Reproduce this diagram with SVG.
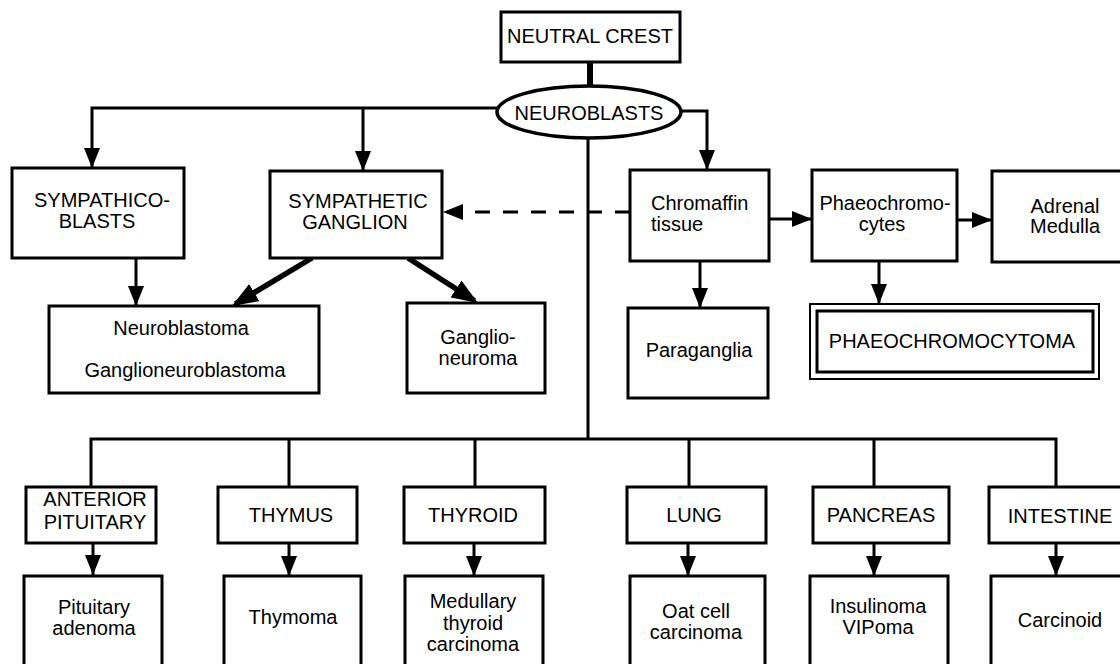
<svg xmlns="http://www.w3.org/2000/svg" width="1120" height="664" viewBox="0 0 1120 664">
<style>
.box{fill:#fff;stroke:#000;stroke-width:3}
.ln{fill:none;stroke:#000;stroke-width:3}
.thk{fill:none;stroke:#000;stroke-width:5.5}
text{font-family:"Liberation Sans",Arial,Helvetica,sans-serif;font-size:20px;fill:#000;text-anchor:middle}
.l{text-anchor:start}
</style>
<defs>
<marker id="ah" markerUnits="userSpaceOnUse" markerWidth="22" markerHeight="16" refX="20" refY="8" orient="auto"><path d="M0,0 L20,8 L0,16 z" fill="#000"/></marker>
<marker id="ahb" markerUnits="userSpaceOnUse" markerWidth="28" markerHeight="20" refX="22" refY="10" orient="auto"><path d="M0,0 L26,10 L0,20 z" fill="#000"/></marker>
</defs>
<rect width="1120" height="664" fill="#fff"/>
<g id="connectors">
<line x1="590" y1="62" x2="590" y2="87" stroke="#000" stroke-width="6"/>
<path class="ln" d="M497,108 H92 V168" marker-end="url(#ah)"/>
<path class="ln" d="M363,108 V171" marker-end="url(#ah)"/>
<path class="ln" d="M681,111 H707 V170" marker-end="url(#ah)"/>
<path class="ln" d="M588,137 V439"/>
<path class="ln" d="M91,487 V439 H1056 V487"/>
<path class="ln" d="M289,439 V487 M475,439 V487 M689,439 V487 M874,439 V487"/>
<path class="ln" d="M136,258 V306" marker-end="url(#ah)"/>
<path class="thk" d="M312,258 L235.4,303.9" marker-end="url(#ahb)"/>
<path class="thk" d="M408,258 L474.6,300.8" marker-end="url(#ahb)"/>
<path class="ln" d="M630,212 H443" stroke-dasharray="15 13" marker-end="url(#ah)"/>
<path class="ln" d="M769,219 H812" marker-end="url(#ah)"/>
<path class="ln" d="M957,220 H992" marker-end="url(#ah)"/>
<path class="ln" d="M700,261 V308" marker-end="url(#ah)"/>
<path class="ln" d="M879,261 V304" marker-end="url(#ah)"/>
<path class="ln" d="M93,543 V575" marker-end="url(#ah)"/>
<path class="ln" d="M289,543 V576" marker-end="url(#ah)"/>
<path class="ln" d="M474,543 V576" marker-end="url(#ah)"/>
<path class="ln" d="M688,543 V576" marker-end="url(#ah)"/>
<path class="ln" d="M874,543 V576" marker-end="url(#ah)"/>
<path class="ln" d="M1056,543 V576" marker-end="url(#ah)"/>
</g>
<g id="neutral-crest"><rect class="box" x="501" y="12" width="179" height="50"/><text x="590" y="43">NEUTRAL CREST</text></g>
<g id="neuroblasts"><ellipse cx="589" cy="112" rx="92" ry="26" fill="#fff" stroke="#000" stroke-width="3.5"/><text x="589" y="120">NEUROBLASTS</text></g>
<g id="sympathicoblasts"><rect class="box" x="12" y="168" width="172" height="90"/><text x="102" y="207">SYMPATHICO-</text><text x="97" y="228">BLASTS</text></g>
<g id="sympathetic-ganglion"><rect class="box" x="270" y="171" width="172" height="87"/><text x="358" y="208">SYMPATHETIC</text><text x="355" y="229">GANGLION</text></g>
<g id="neuroblastoma"><rect class="box" x="49" y="306" width="270" height="87"/><text x="181" y="335">Neuroblastoma</text><text x="185" y="377">Ganglioneuroblastoma</text></g>
<g id="ganglioneuroma"><rect class="box" x="407" y="303" width="138" height="90"/><text x="478" y="344">Ganglio-</text><text x="478" y="365">neuroma</text></g>
<g id="chromaffin"><rect class="box" x="630" y="170" width="139" height="91"/><text class="l" x="651" y="210">Chromaffin</text><text class="l" x="651" y="231">tissue</text></g>
<g id="phaeochromocytes"><rect class="box" x="812" y="170" width="145" height="91"/><text x="885" y="210">Phaeochromo-</text><text x="882" y="231">cytes</text></g>
<g id="adrenal-medulla"><rect class="box" x="992" y="171" width="132" height="91"/><text x="1065" y="213">Adrenal</text><text x="1065" y="233">Medulla</text></g>
<g id="paraganglia"><rect class="box" x="628" y="308" width="140" height="90"/><text x="699" y="357">Paraganglia</text></g>
<g id="phaeochromocytoma"><rect x="810" y="304" width="289" height="75" fill="#fff" stroke="#000" stroke-width="2"/><rect x="817" y="311" width="276" height="61" fill="none" stroke="#000" stroke-width="3"/><text x="952" y="348">PHAEOCHROMOCYTOMA</text></g>
<g id="anterior-pituitary"><rect class="box" x="26" y="487" width="130" height="56"/><text x="95" y="506">ANTERIOR</text><text x="95" y="529">PITUITARY</text></g>
<g id="thymus"><rect class="box" x="218" y="487" width="139" height="56"/><text x="291" y="522">THYMUS</text></g>
<g id="thyroid"><rect class="box" x="404" y="487" width="141" height="56"/><text x="473" y="522">THYROID</text></g>
<g id="lung"><rect class="box" x="627" y="487" width="139" height="56"/><text x="694" y="522">LUNG</text></g>
<g id="pancreas"><rect class="box" x="813" y="487" width="136" height="56"/><text x="881" y="522">PANCREAS</text></g>
<g id="intestine"><rect class="box" x="989" y="487" width="136" height="56"/><text x="1060" y="523">INTESTINE</text></g>
<g id="pituitary-adenoma"><rect class="box" x="24" y="576" width="138" height="95"/><text x="94" y="614">Pituitary</text><text x="94" y="635">adenoma</text></g>
<g id="thymoma"><rect class="box" x="224" y="576" width="137" height="95"/><text x="293" y="624">Thymoma</text></g>
<g id="medullary-thyroid-carcinoma"><rect class="box" x="405" y="576" width="138" height="95"/><text x="473" y="608">Medullary</text><text x="473" y="630">thyroid</text><text x="473" y="651">carcinoma</text></g>
<g id="oat-cell-carcinoma"><rect class="box" x="630" y="576" width="135" height="95"/><text x="696" y="618">Oat cell</text><text x="696" y="639">carcinoma</text></g>
<g id="insulinoma-vipoma"><rect class="box" x="810" y="576" width="138" height="95"/><text x="878" y="613">Insulinoma</text><text x="878" y="634">VIPoma</text></g>
<g id="carcinoid"><rect class="box" x="991" y="576" width="134" height="95"/><text x="1060" y="627">Carcinoid</text></g>
</svg>
